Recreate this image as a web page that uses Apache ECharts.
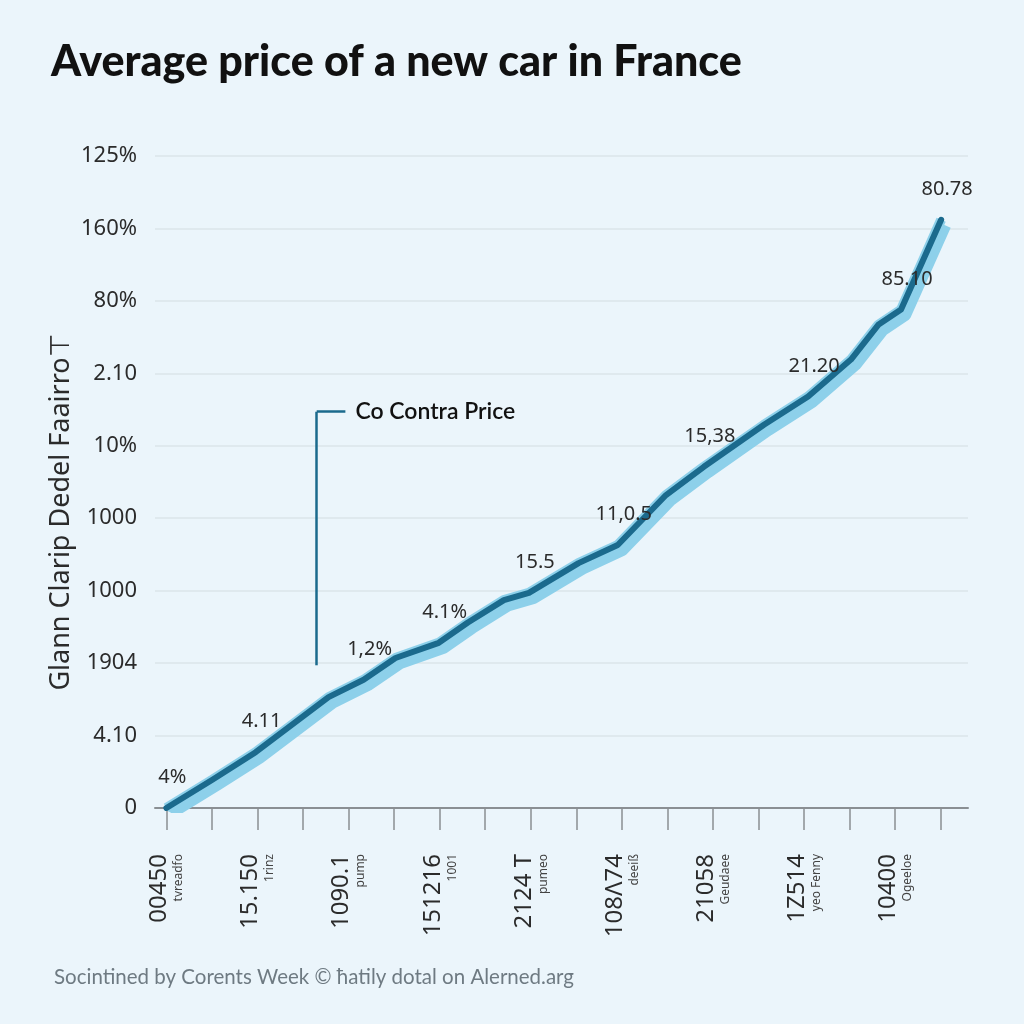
<!DOCTYPE html>
<html>
<head>
<meta charset="utf-8">
<script src="https://cdn.jsdelivr.net/npm/echarts@6/dist/echarts.min.js"></script>
<style>
html,body{margin:0;padding:0;background:#ebf5fb;}
#chart{width:1024px;height:1024px;}
</style>
</head>
<body>
<div id="chart"></div>
<script>
// ---- data ----
const titleText = 'Average price of a new car in France';
const footerText = 'Socintined by Corents Week \u00A9 \u0127atily dotal on Alerned.arg';
const yAxisTitle = 'Glann Clarip Dedel Faairro\u22A4';
const calloutText = 'Co Contra Price';

// y tick labels, bottom to top (value 0..9)
const yTickLabels = ['0', '4.10', '1904', '1000', '1000', '10%', '2.10', '80%', '160%', '125%'];

// x tick labels (every second tick, 0,2,...,16)
const xTickLabels = ['00450', '15.150', '1090.1', '151216', '2124 T', '108\u039B74', '21058', '1Z514', '10400'];
const xTickSubLabels = ['tvreadfo', '1rinz', 'pump', '1001', 'pumeo', 'deei\u00DF', 'Geudaee', 'yeo Fenny', 'Ogeeloe'];

// line vertices (x in tick units, y in gridline units)
const xValues = [0, 1.01, 1.96, 3.56, 4.33, 5.03, 5.98, 6.62, 7.41, 7.96, 9.05, 9.91, 10.97, 11.80, 13.12, 14.09, 15.03, 15.63, 16.13, 17.01];
const yValues = [0, 0.39, 0.77, 1.53, 1.77, 2.07, 2.28, 2.56, 2.87, 2.97, 3.38, 3.63, 4.32, 4.71, 5.29, 5.68, 6.19, 6.67, 6.88, 8.12];
const pointLabels = ['4%', '', '4.11', '', '1,2%', '', '4.1%', '', '', '15.5', '', '11,0.5', '', '15,38', '', '21.20', '', '', '85.10', '80.78'];

// callout bracket (data units)
const calloutX = [3.3, 3.3, 3.93];
const calloutY = [1.97, 5.47, 5.47];

// ---- chart ----
const xTickValues = Array.from({length: 18}, (_, i) => i);
const xLabelValues = xTickLabels.map((_, i) => i * 2);

const lineData = xValues.map((x, i) => [x, yValues[i]]);
const labeledData = xValues.map((x, i) => ({
  value: [x, yValues[i]],
  label: {show: pointLabels[i] !== '', formatter: pointLabels[i]}
}));

const chart = echarts.init(document.getElementById('chart'));
const darkBlue = '#1b6a8d';
const lightBlue = '#8dd0ea';

chart.setOption({
  animation: false,
  backgroundColor: '#ebf5fb',
  title: [{
    text: titleText,
    left: 46, top: 36,
    textStyle: {fontFamily: 'Lato', fontWeight: 900, fontSize: 43, color: '#111'}
  }, {
    text: footerText,
    left: 49, top: 962,
    textStyle: {fontFamily: 'Lato', fontWeight: 'normal', fontSize: 20.5, color: '#6e7a82'}
  }],
  grid: {left: 155, right: 56, top: 156, bottom: 216, containLabel: false},
  xAxis: {
    type: 'value',
    min: -0.25, max: 17.6,
    axisLine: {show: true, lineStyle: {color: '#8a8f93', width: 2}},
    axisTick: {show: true, length: 22, lineStyle: {color: '#8a8f93', width: 1.5}, customValues: xTickValues},
    splitLine: {show: false},
    axisLabel: {
      customValues: xLabelValues,
      rotate: 90,
      margin: 46,
      formatter: v => {
        const i = Math.round(v / 2);
        return '{a|' + xTickLabels[i] + '}\n{b|' + xTickSubLabels[i] + '}';
      },
      rich: {
        a: {fontFamily: 'Noto Sans', fontSize: 24, color: '#2b2b2b', lineHeight: 25, align: 'right'},
        b: {fontFamily: 'Noto Sans', fontSize: 12, color: '#444', lineHeight: 14, align: 'right'}
      }
    }
  },
  yAxis: {
    type: 'value',
    min: 0, max: 9, interval: 1,
    axisLine: {show: false},
    axisTick: {show: false},
    splitLine: {show: true, lineStyle: {color: '#dbe4ea', width: 1.5}},
    axisLabel: {
      margin: 18,
      fontFamily: 'Noto Sans', fontSize: 22, color: '#2b2b2b',
      formatter: v => yTickLabels[Math.round(v)]
    }
  },
  graphic: [{
    type: 'text',
    x: 48, y: 512,
    rotation: Math.PI / 2,
    style: {
      text: yAxisTitle,
      fontFamily: 'Noto Sans', fontSize: 27, fill: '#2b2b2b',
      align: 'center', verticalAlign: 'top'
    }
  }],
  series: [{
    type: 'line',
    name: 'band',
    data: lineData,
    symbol: 'none',
    clip: true,
    z: 1,
    lineStyle: {
      color: lightBlue, width: 10,
      shadowColor: lightBlue, shadowBlur: 0, shadowOffsetX: 5, shadowOffsetY: 6
    },
    silent: true
  }, {
    type: 'line',
    name: 'price',
    data: labeledData,
    symbol: 'circle',
    symbolSize: 1,
    showAllSymbol: true,
    itemStyle: {color: 'rgba(0,0,0,0)'},
    clip: true,
    z: 3,
    lineStyle: {color: darkBlue, width: 6, join: 'round', cap: 'round'},
    label: {
      position: 'top', distance: 20, offset: [6, 0],
      fontFamily: 'Noto Sans', fontSize: 20, color: '#2b2b2b'
    },
    markLine: {
      silent: true,
      symbol: ['none', 'none'],
      lineStyle: {color: darkBlue, width: 2.5, type: 'solid'},
      label: {show: false},
      data: [
        [{coord: [calloutX[0], calloutY[0]]}, {coord: [calloutX[1], calloutY[1]]}],
        [{coord: [calloutX[1], calloutY[1]]}, {coord: [calloutX[2], calloutY[2]],
          label: {show: true, position: 'end', distance: 10, formatter: calloutText,
            fontFamily: 'Lato', fontWeight: 600, fontSize: 23, color: '#111'}}]
      ]
    }
  }]
});
</script>
</body>
</html>
